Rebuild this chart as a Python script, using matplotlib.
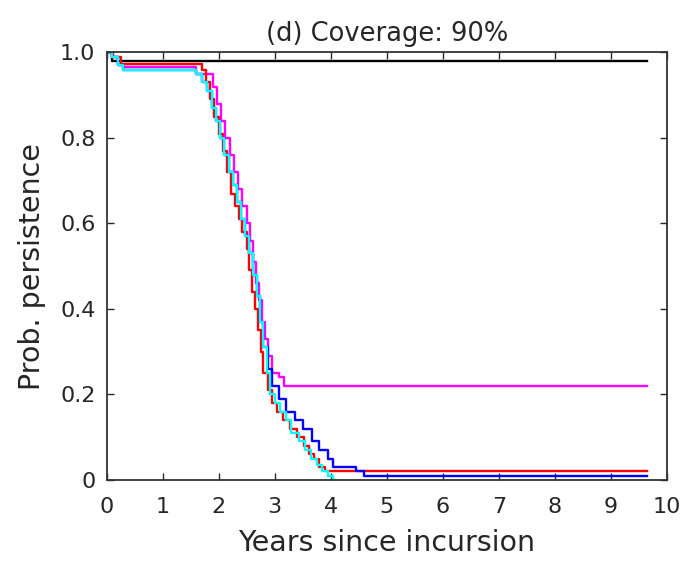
import matplotlib
matplotlib.use("Agg")
import matplotlib.pyplot as plt

plt.rcParams['font.family'] = ['DejaVu Sans']

title = "(d) Coverage: 90%"
xlabel = "Years since incursion"
ylabel = "Prob. persistence"
xticks = list(range(0, 11))
yticks = [0, 0.2, 0.4, 0.6, 0.8, 1.0]
ytick_labels = ["0", "0.2", "0.4", "0.6", "0.8", "1.0"]

# step curves (x where the value changes, value after the change)
black_x = [0, 0.1, 9.65]
black_y = [1.0, 0.98, 0.98]

red_x = [0, 0.12, 0.25, 1.7, 1.78, 1.85, 1.92, 2.0, 2.08, 2.15, 2.22, 2.3, 2.36,
         2.42, 2.5, 2.55, 2.6, 2.65, 2.7, 2.75, 2.8, 2.88, 2.95, 3.05, 3.15, 3.27,
         3.4, 3.52, 3.62, 3.7, 3.8, 3.9, 9.65]
red_y = [1.0, 0.99, 0.972, 0.96, 0.93, 0.89, 0.85, 0.81, 0.77, 0.72, 0.67, 0.64,
         0.61, 0.58, 0.54, 0.49, 0.44, 0.40, 0.35, 0.30, 0.25, 0.21, 0.18, 0.16,
         0.14, 0.12, 0.10, 0.08, 0.06, 0.05, 0.03, 0.02, 0.02]

magenta_x = [0, 0.1, 0.2, 0.3, 1.6, 1.9, 1.97, 2.05, 2.12, 2.2, 2.28, 2.35, 2.42,
             2.5, 2.56, 2.62, 2.67, 2.72, 2.77, 2.82, 2.88, 2.95, 3.07, 3.16, 9.65]
magenta_y = [1.0, 0.99, 0.97, 0.965, 0.95, 0.92, 0.88, 0.84, 0.80, 0.76, 0.72,
             0.68, 0.64, 0.60, 0.56, 0.51, 0.46, 0.42, 0.37, 0.33, 0.29, 0.25,
             0.24, 0.22, 0.22]

blue_x = [0, 0.1, 0.2, 0.3, 1.6, 1.7, 1.8, 1.88, 1.95, 2.02, 2.1, 2.18, 2.25, 2.32,
          2.4, 2.47, 2.55, 2.62, 2.68, 2.74, 2.8, 2.88, 2.95, 3.07, 3.2, 3.36, 3.5,
          3.66, 3.8, 3.96, 4.05, 4.45, 4.6, 9.65]
blue_y = [1.0, 0.99, 0.97, 0.96, 0.95, 0.93, 0.91, 0.87, 0.84, 0.80, 0.76, 0.72,
          0.69, 0.65, 0.61, 0.57, 0.53, 0.48, 0.43, 0.37, 0.31, 0.26, 0.22, 0.19,
          0.16, 0.14, 0.12, 0.09, 0.07, 0.05, 0.03, 0.02, 0.01, 0.01]

cyan_x = [0, 0.1, 0.2, 0.3, 1.6, 1.7, 1.8, 1.88, 1.95, 2.02, 2.1, 2.18, 2.25, 2.32,
          2.4, 2.47, 2.55, 2.62, 2.68, 2.74, 2.8, 2.86, 2.92, 3.0, 3.1, 3.2, 3.3,
          3.43, 3.55, 3.65, 3.75, 3.85, 3.95, 4.05, 4.1]
cyan_y = [1.0, 0.99, 0.97, 0.96, 0.95, 0.93, 0.91, 0.87, 0.84, 0.80, 0.76, 0.72,
          0.69, 0.65, 0.61, 0.57, 0.53, 0.48, 0.43, 0.37, 0.31, 0.25, 0.20, 0.18,
          0.16, 0.14, 0.11, 0.09, 0.07, 0.05, 0.035, 0.02, 0.01, 0.0, 0.0]

fig = plt.figure(figsize=(6.85, 5.64), dpi=100)
ax = fig.add_axes([0.1555, 0.149, 0.818, 0.758])

lw = 1.7
ax.step(black_x, black_y, where="post", color="k", lw=lw)
ax.step(magenta_x, magenta_y, where="post", color="#ff00ff", lw=lw)
ax.step(red_x, red_y, where="post", color="#ff0000", lw=lw)
ax.step(blue_x, blue_y, where="post", color="#0000ff", lw=lw)
ax.step(cyan_x, cyan_y, where="post", color="#00ffff", lw=lw)

ax.set_xlim(0, 10)
ax.set_ylim(0, 1)
ax.set_xticks(xticks)
ax.set_yticks(yticks)
ax.set_yticklabels(ytick_labels)
ax.tick_params(direction="in", top=True, right=True, labelsize=16, length=5,
               width=1, colors="#262626", labelcolor="#262626")
ax.tick_params(axis="x", pad=12)
ax.tick_params(axis="y", pad=8)
for s in ax.spines.values():
    s.set_linewidth(1.3)
    s.set_color("#333333")
ax.set_title(title, fontsize=18.5, color="#262626", pad=8)
ax.set_xlabel(xlabel, fontsize=20.5, color="#262626")
ax.set_ylabel(ylabel, fontsize=20.5, color="#262626")
ax.xaxis.set_label_coords(0.5, -0.115)
ax.yaxis.set_label_coords(-0.108, 0.5)

fig.savefig("out.png", dpi=100)
